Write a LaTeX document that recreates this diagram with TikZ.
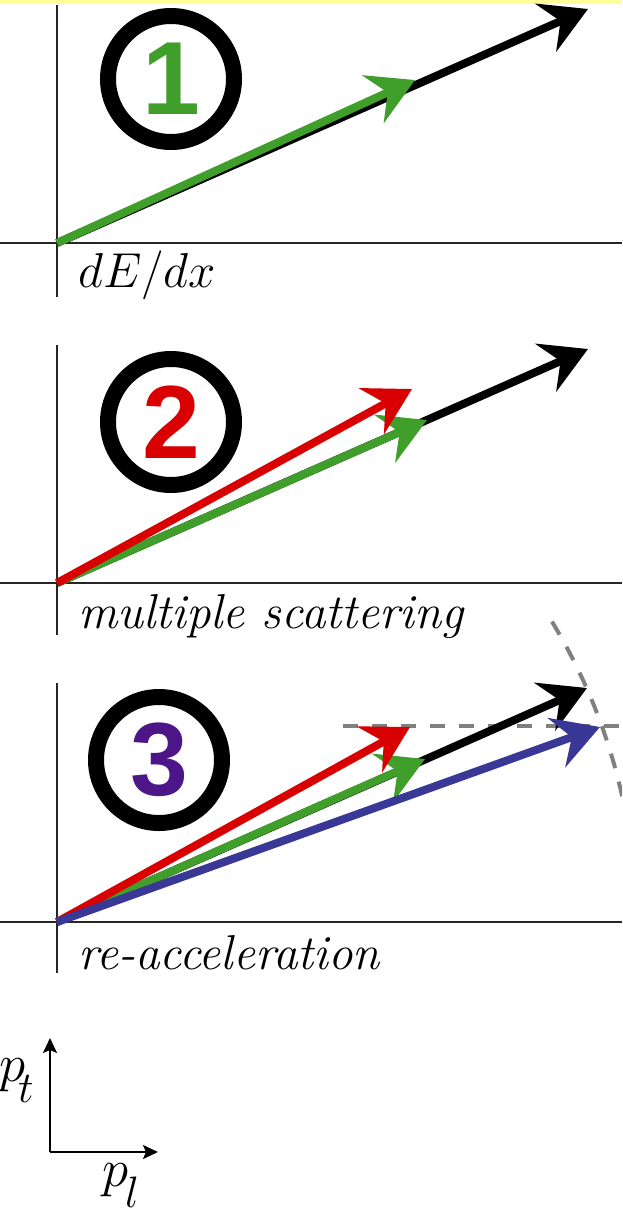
\RequirePackage{fix-cm}
\documentclass[tikz,border=0pt]{standalone}
\usepackage{fontspec}
\newfontfamily\ringfont{Liberation Sans}
\usetikzlibrary{arrows.meta}
\definecolor{vecgreen}{RGB}{64,158,42}
\definecolor{vecred}{RGB}{216,0,0}
\definecolor{vecblue}{RGB}{58,56,150}
\definecolor{numpurple}{RGB}{76,22,136}
\definecolor{bandyellow}{RGB}{255,255,153}
\newcommand{\lowsub}[2]{\kern#1\raisebox{-21pt}{\fontsize{44}{50}\selectfont$#2$}}

\begin{document}
\begin{tikzpicture}[x=1pt, y=-1pt,
  vec/.style={line width=8pt, -{Stealth[length=46pt, width=52pt, inset=16pt]}},
  axisline/.style={line width=1.6pt, black!85},
  guide/.style={line width=4pt, gray, dash pattern=on 15pt off 14pt},
  numring/.style={circle, draw, line width=16pt, minimum size=126pt, inner sep=0pt,
    font=\ringfont\bfseries\fontsize{104}{104}\selectfont},
  caption/.style={anchor=base west, inner sep=0pt, font=\fontsize{49}{58}\selectfont},
  momlabel/.style={anchor=base west, inner sep=0pt, font=\fontsize{53}{60}\selectfont},
  momaxis/.style={line width=2pt, -{Stealth[length=15pt, width=14pt, inset=3pt]}}]
  \useasboundingbox (0,0) rectangle (622,1210);
  \clip (0,0) rectangle (622,1210);
  \fill[bandyellow] (0,0) rectangle (622,4);

  % panel 1: energy loss
  \coordinate (o1) at (57,243);
  \coordinate (b1) at (588,9);
  \coordinate (g1) at (415,80);
  \draw[axisline] (0,243) -- (622,243);
  \draw[axisline] (57,5) -- (57,297);
  \node[numring, text=vecgreen] (ring1) at (171,79) {1};
  \draw[vec, black] (o1) -- (b1);
  \draw[vec, vecgreen] (o1) -- (g1);
  \node[caption] (lab1) at (78,287) {$dE/dx$};

  % panel 2: multiple scattering
  \coordinate (o2) at (57,583);
  \coordinate (b2) at (588,349);
  \coordinate (g2) at (427,420);
  \coordinate (r2) at (412,389);
  \draw[axisline] (0,583) -- (622,583);
  \draw[axisline] (57,345) -- (57,635);
  \node[numring, text=vecred] (ring2) at (171,422) {2};
  \draw[vec, black] (o2) -- (b2);
  \draw[vec, vecgreen] (o2) -- (g2);
  \draw[vec, vecred] (o2) -- (r2);
  \node[caption] (lab2) at (78,628) {\textit{multiple scattering}};

  % panel 3: re-acceleration
  \coordinate (o3) at (57,922);
  \coordinate (b3) at (587,688);
  \coordinate (g3) at (425,759);
  \coordinate (r3) at (410,727);
  \coordinate (u3) at (600,727);
  \coordinate (h0) at (343,726);
  \coordinate (h1) at (622,726);
  \draw[axisline] (0,922) -- (622,922);
  \draw[axisline] (57,683) -- (57,973);
  \node[numring, text=numpurple] (ring3) at (159,760) {3};
  \draw[guide] (h0) -- (h1);
  \draw[guide] ([shift={(-31.25:579)}]o3) arc[start angle=-31.25, end angle=-4, radius=579];
  \draw[vec, black] (o3) -- (b3);
  \draw[vec, vecgreen] (o3) -- (g3);
  \draw[vec, vecred] (o3) -- (r3);
  \draw[vec, vecblue] (o3) -- (u3);
  \node[caption] (lab3) at (78,969) {\textit{re-acceleration}};

  % momentum axes
  \coordinate (c0) at (50,1152);
  \coordinate (ct) at (50,1038);
  \coordinate (cl) at (158,1152);
  \draw[momaxis] (c0) -- (ct);
  \draw[momaxis] (c0) -- (cl);
  \node[momlabel] (pt) at (-1,1081) {$p$\lowsub{-7pt}{t}};
  \node[momlabel] (pl) at (102,1186) {$p$\lowsub{-3pt}{l}};
\end{tikzpicture}
\end{document}
